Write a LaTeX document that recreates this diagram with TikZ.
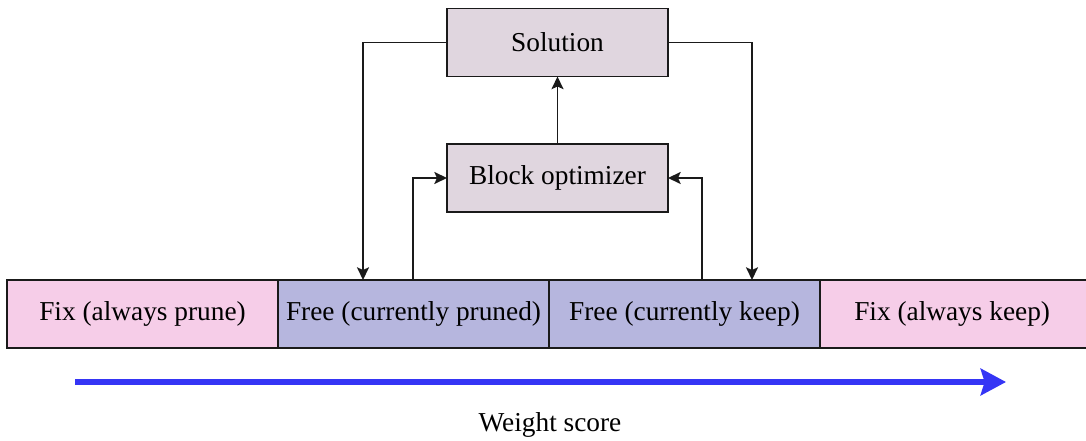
\documentclass[tikz,border=0pt]{standalone}
\usepackage{fontspec}
\setmainfont{Liberation Serif}
\usetikzlibrary{arrows.meta,calc}
\definecolor{fixpink}{HTML}{F6CDE8}
\definecolor{freeblue}{HTML}{B6B6DE}
\definecolor{solfill}{HTML}{E0D6DF}
\definecolor{scoreblue}{HTML}{3535F5}
\definecolor{edge}{HTML}{1A1A1A}
\begin{document}
\begin{tikzpicture}[x=0.75pt,y=-0.75pt,
  every node/.style={font=\fontsize{20.5}{24}\selectfont, inner sep=0pt, outer sep=0pt},
  box/.style={draw=edge, line width=1.3pt, fill=solfill, minimum width=221*0.75pt, minimum height=68*0.75pt},
  seg/.style={draw=edge, line width=1.2pt, minimum height=68*0.75pt},
  conn/.style={draw=edge, line width=1.3pt, -{Stealth[length=9.5pt,width=9pt,inset=2pt]}}
]
\useasboundingbox (0,0) rectangle (1086,441);
\node[box] (sol) at (557.5,42.5) {Solution};
\node[box] (blk) at (557.5,178) {Block optimizer};
\node[seg, fill=fixpink, minimum width=271*0.75pt] (fa) at (142.5,314) {Fix (always prune)};
\node[seg, fill=freeblue, minimum width=271*0.75pt] (fp) at (413.5,314) {Free (currently pruned)};
\node[seg, fill=freeblue, minimum width=271*0.75pt] (fk) at (684.5,314) {Free (currently keep)};
\node[seg, fill=fixpink, minimum width=275*0.75pt] (fk2) at (957.5,314) {\hspace*{-8pt}Fix (always keep)};
\coordinate (d1) at (363,280);
\coordinate (u1) at (413,280);
\coordinate (u2) at (702,280);
\coordinate (d2) at (752,280);
\draw[conn] (sol.west) -| (d1);
\draw[conn] (sol.east) -| (d2);
\draw[conn] (u1) |- (blk.west);
\draw[conn] (u2) |- (blk.east);
\draw[conn] (blk.north) -- (sol.south);
\coordinate (s0) at (75,382);
\coordinate (s1) at (1006,382);
\draw[scoreblue, line width=3.8pt, -{Stealth[length=19pt,width=20pt,inset=3pt]}] (s0) -- (s1);
\node (ws) at (550,425) {Weight score};
\end{tikzpicture}
\end{document}
